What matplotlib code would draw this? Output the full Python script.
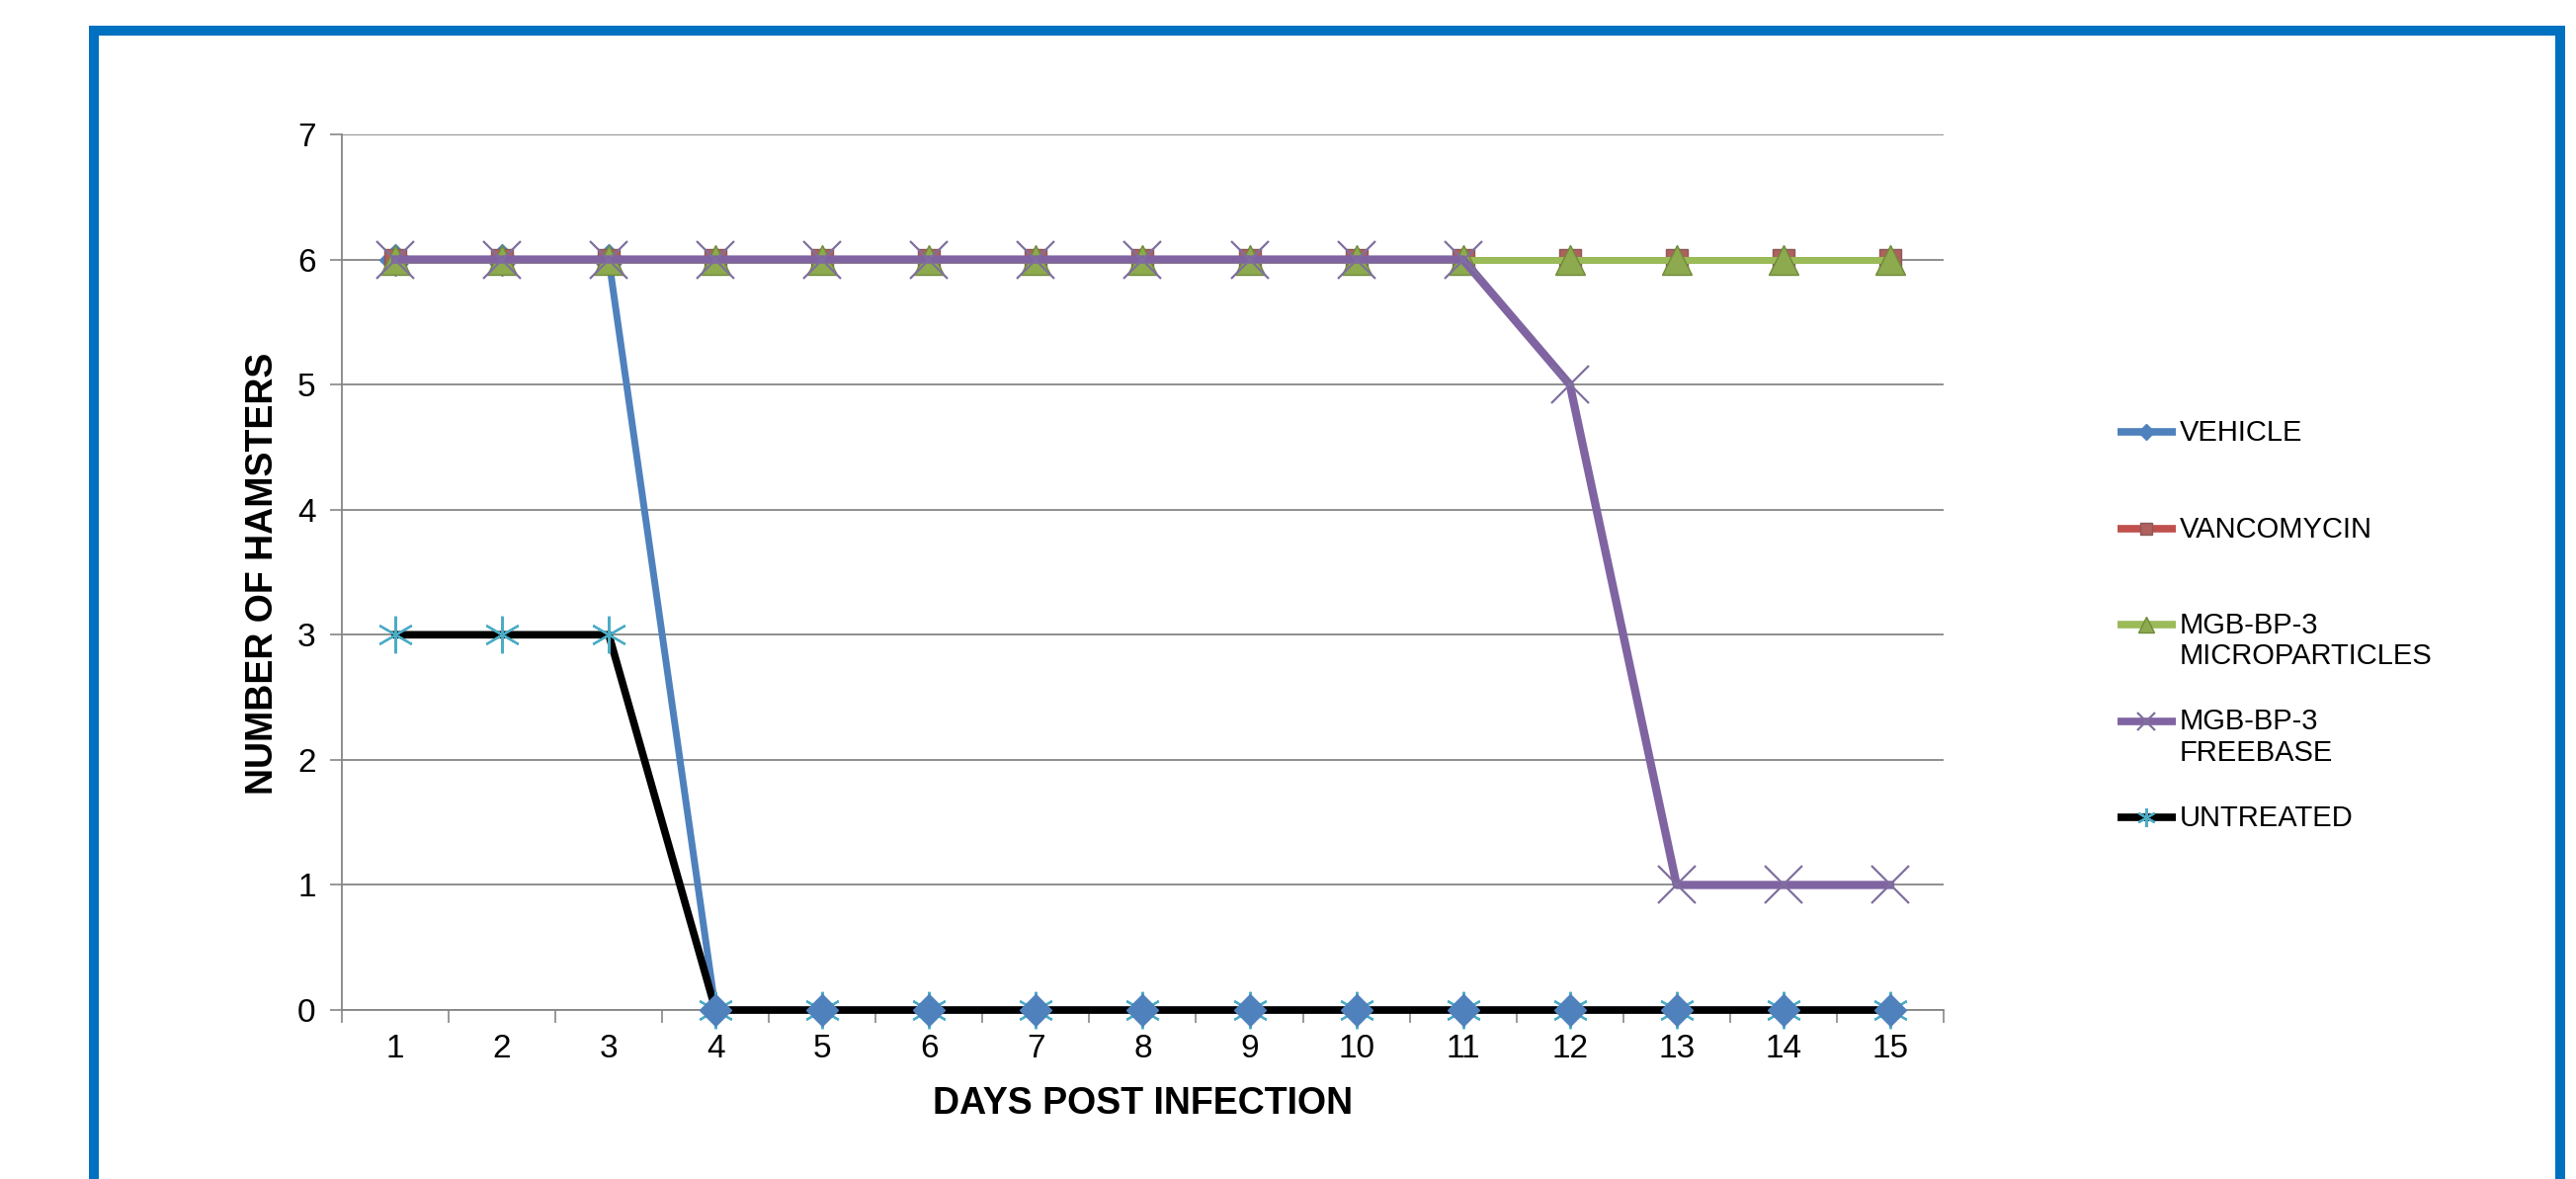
import numpy as np
import matplotlib
matplotlib.use("Agg")
import matplotlib.pyplot as plt
from matplotlib.patches import Rectangle
from matplotlib.ticker import FixedLocator

plt.rcParams['font.family'] = ['Liberation Sans', 'DejaVu Sans']

# survival counts per day
days = [1, 2, 3, 4, 5, 6, 7, 8, 9, 10, 11, 12, 13, 14, 15]
vehicle = [6, 6, 6, 0, 0, 0, 0, 0, 0, 0, 0, 0, 0, 0, 0]
vancomycin = [6, 6, 6, 6, 6, 6, 6, 6, 6, 6, 6, 6, 6, 6, 6]
microparticles = [6, 6, 6, 6, 6, 6, 6, 6, 6, 6, 6, 6, 6, 6, 6]
freebase = [6, 6, 6, 6, 6, 6, 6, 6, 6, 6, 6, 5, 1, 1, 1]
untreated = [3, 3, 3, 0, 0, 0, 0, 0, 0, 0, 0, 0, 0, 0, 0]

names = ['VEHICLE', 'VANCOMYCIN', 'MGB-BP-3\nMICROPARTICLES',
         'MGB-BP-3\nFREEBASE', 'UNTREATED']
yticks = [0, 1, 2, 3, 4, 5, 6, 7]

GRID = '#868686'

# (values, line colour, marker, marker size, face, edge, edge width, line width)
styles = {
    'VEHICLE': (vehicle, '#4F81BD', 'D', 16, '#4F81BD', '#4F81BD', 1, 5),
    'VANCOMYCIN': (vancomycin, '#C0504D', 's', 16, '#B0605D', '#8A5A5A', 1, 5),
    'MGB-BP-3\nMICROPARTICLES': (microparticles, '#9BBB59', '^', 22, '#8DAA4E', '#6E8A3A', 1, 5),
    'MGB-BP-3\nFREEBASE': (freebase, '#8064A2', 'x', 27, 'none', '#7F6F9F', 1.6, 6),
    'UNTREATED': (untreated, 'black', (6, 2, 0), 27, 'none', '#4BACC6', 1.6, 5.5),
}

fig = plt.figure(figsize=(26.07, 11.93), dpi=100)
ax = fig.add_axes([0.1327, 0.1433, 0.6218, 0.7427])

# vehicle line sits under the untreated line, its markers above it
vals, col, mk, ms, mfc, mec, mew, lw = styles['VEHICLE']
ax.plot(days, vals, color=col, lw=lw, zorder=3, clip_on=False)

draw_order = ['UNTREATED', 'VEHICLE', 'VANCOMYCIN',
              'MGB-BP-3\nMICROPARTICLES', 'MGB-BP-3\nFREEBASE']
for z, key in enumerate(draw_order):
    vals, col, mk, ms, mfc, mec, mew, lw = styles[key]
    if key == 'VEHICLE':
        ax.plot(days, vals, ls='none', marker=mk, ms=ms, mfc=mfc, mec=mec,
                mew=mew, zorder=4 + z, clip_on=False)
    else:
        ax.plot(days, vals, color=col, lw=lw, marker=mk, ms=ms, mfc=mfc,
                mec=mec, mew=mew, zorder=4 + z, clip_on=False)

ax.set_xlim(0.5, 15.5)
ax.set_ylim(0, 7)
ax.set_xticks(days)
ax.set_yticks(yticks)
ax.xaxis.set_minor_locator(FixedLocator(np.arange(0.5, 16, 1)))
ax.tick_params(axis='x', which='major', length=0, pad=17, labelsize=24)
ax.tick_params(axis='x', which='minor', length=9, width=1.2, color=GRID,
               direction='out')
ax.tick_params(axis='y', length=9, width=1.2, color=GRID, direction='out',
               pad=10, labelsize=24)
ax.grid(axis='y', color=GRID, lw=1.3)
ax.set_axisbelow(True)
for s in ['top', 'right']:
    ax.spines[s].set_visible(False)
for s in ['left', 'bottom']:
    ax.spines[s].set_color(GRID)
    ax.spines[s].set_linewidth(1.3)

ax.set_xlabel('DAYS POST INFECTION', fontsize=27, fontweight='bold')
ax.set_ylabel('NUMBER OF HAMSTERS', fontsize=27, fontweight='bold')
ax.xaxis.set_label_coords(0.5, -0.107)
ax.xaxis.label.set_va('center')
ax.yaxis.set_label_coords(-0.0494, 0.499)
ax.yaxis.label.set_va('center')

# legend on the right, one slot per series
lax = fig.add_axes([0, 0, 1, 1])
lax.set_xlim(0, 2607)
lax.set_ylim(1193, 0)
lax.axis('off')
for i, key in enumerate(names):
    vals, col, mk, ms, mfc, mec, mew, lw = styles[key]
    y = 437 + 97.5 * i
    lax.plot([2143, 2202], [y, y], color=col, lw=5.5, solid_capstyle='butt')
    lax.plot([2172], [y], marker=mk, ms=ms * 0.5, mfc=mfc, mec=mec, mew=mew,
             ls='none')
    lax.text(2206, y - 13, key, va='top', ha='left', fontsize=21,
             linespacing=1.15)

# blue frame around the figure
fig.patches.append(Rectangle((0.03644, -0.1), 0.99405 - 0.03644, 0.9736 + 0.1,
                             transform=fig.transFigure, fill=False,
                             ec='#0070C0', lw=7.2, clip_on=False))

fig.savefig('out.png', dpi=100, facecolor='white')
